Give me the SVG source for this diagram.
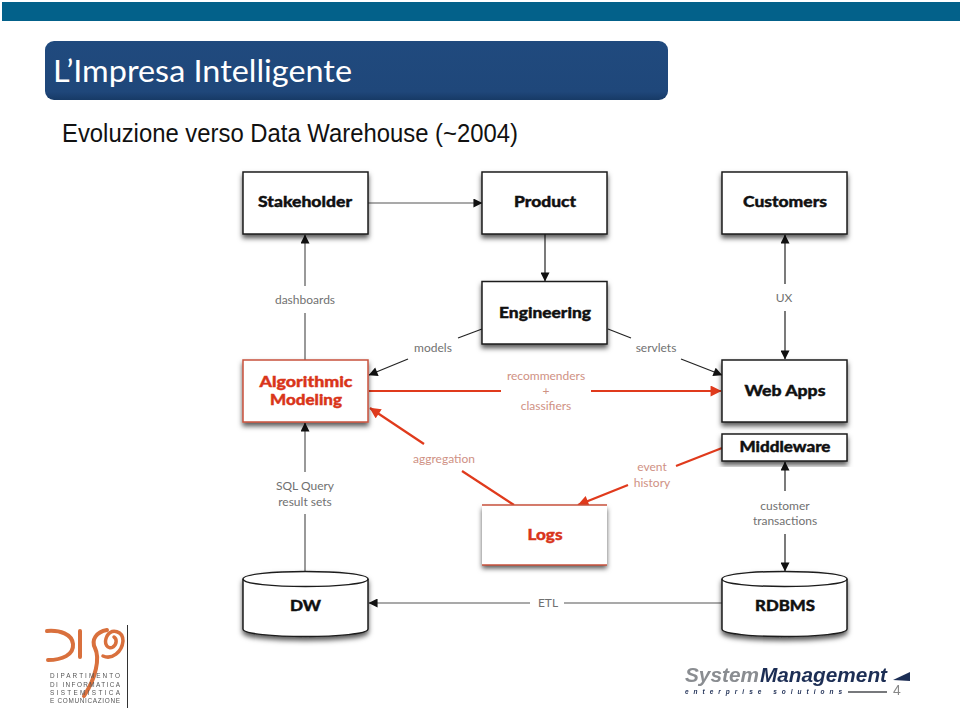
<svg xmlns="http://www.w3.org/2000/svg" width="960" height="710" viewBox="0 0 960 710">
  <style>
    .box { fill: #fff; stroke: #1c1c1c; stroke-width: 1.5; }
    .red-box { fill: #fff; stroke: #c8523c; stroke-width: 1.5; }
    .name { font-family: "Lato", "Liberation Sans", sans-serif; font-weight: 900; font-size: 15.5px; text-anchor: middle; fill: #111; stroke: #111; stroke-width: 0.4; }
    .red-name { fill: #d9351a; stroke: #d9351a; }
    .lbl { font-family: "Lato", "Liberation Sans", sans-serif; font-size: 12px; text-anchor: middle; fill: #717171; }
    .red-lbl { fill: #cf9184; }
    .wire { fill: none; stroke: #555; stroke-width: 1.2; }
    .wire-dark { fill: none; stroke: #222; stroke-width: 1.2; }
    .wire-red { fill: none; stroke: #e03a1c; stroke-width: 2.2; }
    .logo-stroke { fill: none; stroke: #d9703c; stroke-linecap: round; }
    .logo-text { font-family: "Liberation Sans", sans-serif; font-size: 6.4px; fill: #555; }
  </style>
  <defs>
    <linearGradient id="titleFill" x1="0" y1="0" x2="0" y2="1">
      <stop offset="0" stop-color="#204a7e"/>
      <stop offset="0.86" stop-color="#1f477a"/>
      <stop offset="1" stop-color="#173a66"/>
    </linearGradient>
    <filter id="shade" x="-10%" y="-10%" width="120%" height="130%">
      <feDropShadow dx="0" dy="3.5" stdDeviation="2.4" flood-color="#000" flood-opacity="0.65"/>
    </filter>
    <filter id="soft" x="-5%" y="-5%" width="110%" height="110%">
      <feGaussianBlur stdDeviation="0.35"/>
    </filter>
    <marker id="arrowDark" viewBox="0 0 10 10" refX="9.5" refY="5" markerUnits="userSpaceOnUse" markerWidth="10" markerHeight="9" orient="auto-start-reverse">
      <path d="M0 0L10 5L0 10Z" fill="#111"/>
    </marker>
    <marker id="arrowRed" viewBox="0 0 10 10" refX="9.5" refY="5" markerUnits="userSpaceOnUse" markerWidth="12" markerHeight="11" orient="auto">
      <path d="M0 0L10 5L0 10Z" fill="#e03a1c"/>
    </marker>
  </defs>

  <!-- page header -->
  <rect x="2" y="2" width="958" height="19" fill="#03618a"/>
  <g id="title">
    <rect x="45" y="41" width="623" height="59" rx="9" fill="url(#titleFill)"/>
    <text x="53" y="82" font-family="Lato, 'Open Sans', sans-serif" font-size="31" fill="#fff" textLength="299" lengthAdjust="spacingAndGlyphs">L’Impresa Intelligente</text>
  </g>
  <text id="subtitle" x="62" y="142" font-family="'Liberation Sans', Arial, sans-serif" font-size="25" fill="#111" textLength="456" lengthAdjust="spacingAndGlyphs">Evoluzione verso Data Warehouse (~2004)</text>

  <!-- connectors -->
  <g id="connectors">
    <path class="wire" d="M368 203H482" marker-end="url(#arrowDark)"/>
    <path class="wire-dark" d="M545 234V281" marker-end="url(#arrowDark)"/>
    <path class="wire" d="M305 360V313"/>
    <path class="wire" d="M305 286V235" marker-end="url(#arrowDark)"/>
    <path class="wire-dark" d="M482 329L458 338"/>
    <path class="wire-dark" d="M408 359L369 375" marker-end="url(#arrowDark)"/>
    <path class="wire-dark" d="M608 329L631 338"/>
    <path class="wire-dark" d="M681 359L722 375" marker-end="url(#arrowDark)"/>
    <path class="wire-dark" d="M785 284V235" marker-end="url(#arrowDark)"/>
    <path class="wire-dark" d="M785 311V359" marker-end="url(#arrowDark)"/>
    <path class="wire-red" d="M369 391H501"/>
    <path class="wire-red" d="M591 391H721" marker-end="url(#arrowRed)"/>
    <path class="wire-red" d="M514 505L462 471"/>
    <path class="wire-red" d="M424 444L370 408" marker-end="url(#arrowRed)"/>
    <path class="wire-red" d="M722 448L676 466"/>
    <path class="wire-red" d="M628 485L578 505" marker-end="url(#arrowRed)"/>
    <path class="wire-dark" d="M785 491V462" marker-end="url(#arrowDark)"/>
    <path class="wire-dark" d="M785 534V571" marker-end="url(#arrowDark)"/>
    <path class="wire" d="M305 572V514"/>
    <path class="wire" d="M305 472V423" marker-end="url(#arrowDark)"/>
    <path class="wire" d="M722 603H564"/>
    <path class="wire" d="M530 603H369" marker-end="url(#arrowDark)"/>
    <text class="lbl" x="305" y="304">dashboards</text>
    <text class="lbl" x="433" y="352">models</text>
    <text class="lbl" x="656" y="352">servlets</text>
    <text class="lbl" x="784" y="302">UX</text>
    <text class="lbl red-lbl" x="546" y="380">recommenders</text>
    <text class="lbl red-lbl" x="546" y="395">+</text>
    <text class="lbl red-lbl" x="546" y="410">classifiers</text>
    <text class="lbl red-lbl" x="444" y="463">aggregation</text>
    <text class="lbl red-lbl" x="652" y="471">event</text>
    <text class="lbl red-lbl" x="652" y="487">history</text>
    <text class="lbl" x="305" y="490">SQL Query</text>
    <text class="lbl" x="305" y="506">result sets</text>
    <text class="lbl" x="785" y="510">customer</text>
    <text class="lbl" x="785" y="525">transactions</text>
    <text class="lbl" x="548" y="607">ETL</text>
  </g>

  <!-- nodes -->
  <g id="stakeholder">
    <rect class="box" x="243" y="172" width="125" height="62" filter="url(#shade)"/>
    <text class="name" x="305" y="207" textLength="94" lengthAdjust="spacingAndGlyphs">Stakeholder</text>
  </g>
  <g id="product">
    <rect class="box" x="482" y="172" width="125" height="62" filter="url(#shade)"/>
    <text class="name" x="545" y="207" textLength="62" lengthAdjust="spacingAndGlyphs">Product</text>
  </g>
  <g id="customers">
    <rect class="box" x="722" y="172" width="125" height="62" filter="url(#shade)"/>
    <text class="name" x="785" y="207" textLength="84" lengthAdjust="spacingAndGlyphs">Customers</text>
  </g>
  <g id="engineering">
    <rect class="box" x="482" y="281.5" width="125" height="62.5" filter="url(#shade)"/>
    <text class="name" x="545" y="318" textLength="92" lengthAdjust="spacingAndGlyphs">Engineering</text>
  </g>
  <g id="algorithmic-modeling">
    <rect class="red-box" x="243" y="360" width="125" height="62" filter="url(#shade)"/>
    <text class="name red-name" x="306" y="387" textLength="93" lengthAdjust="spacingAndGlyphs">Algorithmic</text>
    <text class="name red-name" x="306" y="405" textLength="72" lengthAdjust="spacingAndGlyphs">Modeling</text>
  </g>
  <g id="web-apps">
    <rect class="box" x="722" y="360" width="125" height="62" filter="url(#shade)"/>
    <text class="name" x="785" y="396" textLength="81" lengthAdjust="spacingAndGlyphs">Web Apps</text>
  </g>
  <g id="middleware">
    <rect class="box" x="722" y="434" width="125" height="27" filter="url(#shade)"/>
    <text class="name" x="785" y="452" textLength="91" lengthAdjust="spacingAndGlyphs">Middleware</text>
  </g>
  <g id="logs">
    <rect x="482" y="505" width="125" height="60" fill="#fff" filter="url(#shade)"/>
    <path d="M482 505H607M482 565H607" stroke="#c8523c" stroke-width="1.6" fill="none"/>
    <text class="name red-name" x="545" y="540" textLength="35" lengthAdjust="spacingAndGlyphs">Logs</text>
  </g>
  <g id="dw">
    <path class="box" d="M243 579C243 569 368 569 368 579V629C368 639 243 639 243 629Z" filter="url(#shade)"/>
    <path class="box" style="fill:none" d="M243 579C243 589 368 589 368 579"/>
    <text class="name" x="305.500" y="611" textLength="31" lengthAdjust="spacingAndGlyphs">DW</text>
  </g>
  <g id="rdbms">
    <path class="box" d="M722 579C722 569 847 569 847 579V629C847 639 722 639 722 629Z" filter="url(#shade)"/>
    <path class="box" style="fill:none" d="M722 579C722 589 847 589 847 579"/>
    <text class="name" x="785" y="611" textLength="60" lengthAdjust="spacingAndGlyphs">RDBMS</text>
  </g>

  <!-- department mark, bottom left -->
  <g id="department-logo" filter="url(#soft)">
    <rect x="44" y="625" width="83" height="83" fill="#fff"/>
    <path d="M127.500 625V708" stroke="#333" stroke-width="1"/>
    <path class="logo-stroke" stroke-width="4" d="M47 631C60 630 72 634 73 644C74 655 62 660 48 660"/>
    <path class="logo-stroke" stroke-width="4" d="M80 631V657"/>
    <path class="logo-stroke" stroke-width="4" d="M107 630C96 632 91 640 95 648C100 658 96 678 84 696"/>
    <path class="logo-stroke" stroke-width="3.500" d="M103 656C112 660 122 652 123 641C123 631 112 628 107 636C103 644 108 650 113 647C117 644 117 639 114 637"/>
    <text class="logo-text" x="50" y="678" textLength="70">DIPARTIMENTO</text>
    <text class="logo-text" x="50" y="686.500" textLength="70">DI INFORMATICA</text>
    <text class="logo-text" x="50" y="695" textLength="70">SISTEMISTICA</text>
    <text class="logo-text" x="50" y="703" textLength="70">E COMUNICAZIONE</text>
  </g>

  <!-- company mark and page number, bottom right -->
  <g id="company-logo" filter="url(#soft)">
    <text x="685" y="682" font-family="'Liberation Sans', sans-serif" font-size="20" font-weight="700" font-style="italic" fill="#8a8d91" textLength="74" lengthAdjust="spacingAndGlyphs">System</text>
    <text x="760" y="682" font-family="'Liberation Sans', sans-serif" font-size="20" font-weight="700" font-style="italic" fill="#1f2f55" textLength="127" lengthAdjust="spacingAndGlyphs">Management</text>
    <text x="685" y="693.500" font-family="'Liberation Sans', sans-serif" font-size="6.500" font-weight="700" font-style="italic" fill="#1f2f55" textLength="157">enterprise solutions</text>
    <rect x="848" y="691" width="39" height="2" fill="#77797c"/>
    <path d="M893 680L910 672V681Z" fill="#1f2f55"/>
    <text x="893" y="695" font-family="'Liberation Sans', sans-serif" font-size="14" fill="#888">4</text>
  </g>
</svg>
